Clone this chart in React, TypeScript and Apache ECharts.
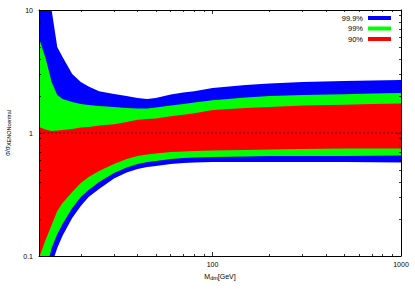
import React, { useEffect, useRef } from "react";
import * as echarts from "echarts";

// Dark matter mass [GeV]
const MASS = [12, 13, 14, 15, 16, 18, 20, 22, 25, 30, 35, 40, 45, 50, 60, 70, 80, 100, 150, 200, 300, 500, 700, 1000];
// sigma / sigma_XENON,central bands
const BLUE_UP = [20, 13, 10, 5.0, 4.15, 3.02, 2.6, 2.39, 2.19, 2.08, 2.0, 1.93, 1.89, 1.93, 2.06, 2.13, 2.19, 2.32, 2.46, 2.53, 2.6, 2.65, 2.67, 2.7];
const GREEN_UP = [5.9, 4.07, 2.6, 2.04, 1.89, 1.79, 1.72, 1.69, 1.66, 1.63, 1.6, 1.58, 1.58, 1.61, 1.67, 1.72, 1.77, 1.85, 1.94, 2.0, 2.04, 2.07, 2.09, 2.11];
const RED_UP = [1.12, 1.07, 1.04, 1.05, 1.06, 1.08, 1.11, 1.12, 1.15, 1.18, 1.23, 1.28, 1.3, 1.31, 1.37, 1.41, 1.45, 1.54, 1.6, 1.63, 1.67, 1.7, 1.72, 1.74];
const RED_LO = [0.096, 0.135, 0.179, 0.232, 0.27, 0.331, 0.392, 0.439, 0.491, 0.56, 0.615, 0.65, 0.669, 0.681, 0.7, 0.707, 0.714, 0.72, 0.727, 0.734, 0.741, 0.748, 0.748, 0.748];
const GREEN_LO = [0.06, 0.074, 0.116, 0.151, 0.182, 0.246, 0.302, 0.344, 0.4, 0.473, 0.524, 0.56, 0.581, 0.592, 0.615, 0.626, 0.632, 0.638, 0.644, 0.65, 0.65, 0.65, 0.652, 0.656];
const BLUE_LO = [0.044, 0.053, 0.085, 0.116, 0.146, 0.204, 0.255, 0.302, 0.351, 0.427, 0.477, 0.51, 0.53, 0.539, 0.56, 0.57, 0.576, 0.581, 0.581, 0.581, 0.581, 0.581, 0.579, 0.576];

const BAND_NAMES = ["99.9%", "99%", "90%"];
const BAND_COLORS = ["#0000ff", "#00ff00", "#ff0000"];

const X_RANGE = [12, 1000];
const Y_RANGE = [0.1, 10];
const X_TICK_VALUES = [100, 1000];
const X_TICK_LABELS = ["100", "1000"];
const X_MINOR = [20, 30, 40, 50, 60, 70, 80, 90, 200, 300, 400, 500, 600, 700, 800, 900];
const Y_TICK_VALUES = [0.1, 1, 10];
const Y_TICK_LABELS = ["0.1", "1", "10"];
const Y_MINOR = [0.2, 0.3, 0.4, 0.5, 0.6, 0.7, 0.8, 0.9, 2, 3, 4, 5, 6, 7, 8, 9];

const L = Math.log10;
const FONT = "'Liberation Sans', Arial, Helvetica, sans-serif";

function labelFor(values: number[], labels: string[]) {
  return (v: number) => {
    const i = values.findIndex((t) => Math.abs(L(t) - v) < 1e-6);
    return i >= 0 ? labels[i] : "";
  };
}

export default function App() {
  const ref = useRef<HTMLDivElement>(null);
  useEffect(() => {
    document.body.style.margin = "0";
    if (!ref.current) return;
    const chart = echarts.init(ref.current, undefined, { renderer: "svg" });
    const xMin = L(X_RANGE[0]);
    const xMax = L(X_RANGE[1]);
    const yMin = L(Y_RANGE[0]);
    const yMax = L(Y_RANGE[1]);

    const tickLine = { color: "#000", width: 0.8 };
    const mkX = (pos: string, major: boolean, main: boolean) => ({
      type: "value",
      min: xMin,
      max: xMax,
      position: pos,
      z: 10,
      axisLine: { show: main, onZero: false, lineStyle: { color: "#000", width: 1 } },
      axisTick: {
        show: true,
        inside: true,
        length: major ? 4 : 2,
        customValues: (major ? X_TICK_VALUES : X_MINOR).map(L),
        lineStyle: tickLine,
      },
      axisLabel: main && pos === "bottom"
        ? {
            show: true,
            customValues: X_TICK_VALUES.map(L),
            formatter: labelFor(X_TICK_VALUES, X_TICK_LABELS),
            fontSize: 7,
            fontFamily: FONT,
            color: "#000",
            margin: 5,
          }
        : { show: false },
      splitLine: { show: false },
      ...(main && pos === "bottom"
        ? {
            name: "{a|M}{b|dm}{a|[GeV]}",
            nameLocation: "middle",
            nameGap: 15,
            nameTextStyle: {
              fontFamily: FONT,
              rich: {
                a: { fontSize: 7, fontFamily: FONT, color: "#000" },
                b: { fontSize: 5.5, fontFamily: FONT, color: "#000", verticalAlign: "bottom", padding: [3, 0, 0, 0] },
              },
            },
          }
        : {}),
    });
    const mkY = (pos: string, major: boolean, main: boolean) => ({
      type: "value",
      min: yMin,
      max: yMax,
      position: pos,
      z: 10,
      axisLine: { show: main, onZero: false, lineStyle: { color: "#000", width: 1 } },
      axisTick: {
        show: true,
        inside: true,
        length: major ? 4 : 2,
        customValues: (major ? Y_TICK_VALUES : Y_MINOR).map(L),
        lineStyle: tickLine,
      },
      axisLabel: main && pos === "left"
        ? {
            show: true,
            customValues: Y_TICK_VALUES.map(L),
            formatter: labelFor(Y_TICK_VALUES, Y_TICK_LABELS),
            fontSize: 7,
            fontFamily: FONT,
            color: "#000",
            margin: 6,
          }
        : { show: false },
      splitLine: { show: false },
      ...(main && pos === "left"
        ? {
            name: "{a|σ/σ}{b|XENONcentral}",
            nameLocation: "middle",
            nameGap: 27,
            nameRotate: 90,
            nameTextStyle: {
              fontFamily: FONT,
              rich: {
                a: { fontSize: 6.5, fontFamily: FONT, color: "#000" },
                b: { fontSize: 5.5, fontFamily: FONT, color: "#000", verticalAlign: "bottom", padding: [3, 0, 0, 0] },
              },
            },
          }
        : {}),
    });

    // painter's order: each curve filled down to the axis minimum
    const layers = [
      { name: BAND_NAMES[0], vals: BLUE_UP, color: BAND_COLORS[0] },
      { name: BAND_NAMES[1], vals: GREEN_UP, color: BAND_COLORS[1] },
      { name: BAND_NAMES[2], vals: RED_UP, color: BAND_COLORS[2] },
      { name: "lo90", vals: RED_LO, color: BAND_COLORS[1] },
      { name: "lo99", vals: GREEN_LO, color: BAND_COLORS[0] },
      { name: "lo999", vals: BLUE_LO, color: "#ffffff" },
    ];
    const series: any[] = layers.map((ly) => ({
      type: "line",
      name: ly.name,
      data: MASS.map((m, i) => [L(m), L(ly.vals[i])]),
      symbol: "none",
      color: ly.color,
      itemStyle: { color: ly.color },
      lineStyle: { width: 0, color: ly.color },
      areaStyle: { color: ly.color, opacity: 1, origin: "start" },
      silent: true,
      clip: true,
      z: 2,
    }));
    series.push({
      type: "line",
      name: "ref",
      data: [
        [xMin, 0],
        [xMax, 0],
      ],
      symbol: "none",
      lineStyle: { color: "#000", width: 0.7, type: [2, 2] },
      silent: true,
      z: 3,
    });

    chart.setOption({
      animation: false,
      grid: { left: 39, right: 14, top: 10, bottom: 35, containLabel: false, outerBoundsMode: "none" },
      legend: {
        data: BAND_NAMES,
        orient: "vertical",
        right: 24,
        top: 14,
        padding: 0,
        align: "right",
        icon: "rect",
        itemWidth: 23,
        itemHeight: 4,
        itemGap: 2.5,
        textStyle: { fontSize: 7.5, fontFamily: FONT, color: "#000", lineHeight: 8 },
        selectedMode: false,
      },
      xAxis: [mkX("bottom", true, true), mkX("bottom", false, false), mkX("top", true, true), mkX("top", false, false)],
      yAxis: [mkY("left", true, true), mkY("left", false, false), mkY("right", true, true), mkY("right", false, false)],
      series,
    } as any);
    return () => chart.dispose();
  }, []);
  return <div ref={ref} style={{ width: 415, height: 291 }} />;
}
